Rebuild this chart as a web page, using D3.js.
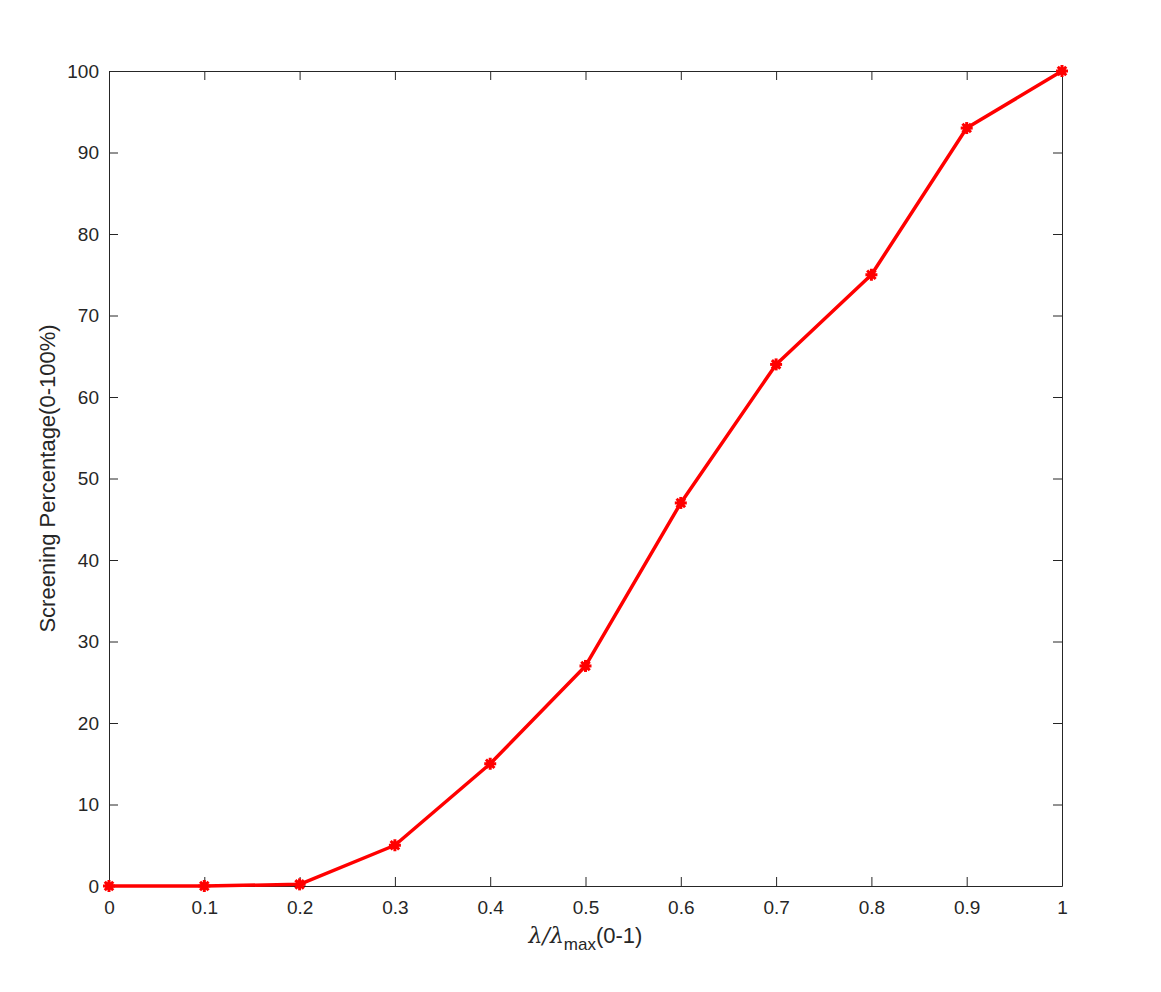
<!DOCTYPE html>
<html>
<head>
<meta charset="utf-8">
<script src="https://cdn.jsdelivr.net/npm/d3@7"></script>
<style>
  body { margin: 0; background: #fff; }
  svg text { font-family: "Liberation Sans", Arial, sans-serif; fill: #262626; }
</style>
</head>
<body>
<script>
const ratios = [0, 0.1, 0.2, 0.3, 0.4, 0.5, 0.6, 0.7, 0.8, 0.9, 1];
const screening = [0, 0, 0.2, 5, 15, 27, 47, 64, 75, 93, 100];
const xTicks = [0, 0.1, 0.2, 0.3, 0.4, 0.5, 0.6, 0.7, 0.8, 0.9, 1];
const yTicks = [0, 10, 20, 30, 40, 50, 60, 70, 80, 90, 100];

const W = 1161, H = 992;
const margin = { top: 71, right: 99, bottom: 106, left: 109 };
const width = W - margin.left - margin.right,
      height = H - margin.top - margin.bottom;

const svg = d3.select('body').append('svg')
    .attr('width', W).attr('height', H);
const g = svg.append('g')
    .attr('transform', 'translate(' + margin.left + ',' + margin.top + ')');

const x = d3.scaleLinear().domain([0, 1]).range([0, width]);
const y = d3.scaleLinear().domain([0, 100]).range([height, 0]);

// axes, ticks pointing inward like matlab
const fmtX = d => d === 0 ? '0' : d === 1 ? '1' : d3.format('.1f')(d);
function styleAxis(sel) {
  sel.select('.domain').attr('stroke', '#262626').attr('stroke-width', 1);
  sel.selectAll('.tick line').attr('stroke', '#262626');
  sel.selectAll('.tick text').style('font-size', '19px');
}
g.append('g').attr('transform', 'translate(0,' + height + ')')
  .call(d3.axisBottom(x).tickValues(xTicks).tickFormat(fmtX).tickSizeInner(-9).tickSizeOuter(0).tickPadding(15))
  .call(styleAxis);
g.append('g')
  .call(d3.axisTop(x).tickValues(xTicks).tickFormat('').tickSizeInner(-9).tickSizeOuter(0))
  .call(styleAxis);
g.append('g')
  .call(d3.axisLeft(y).tickValues(yTicks).tickSizeInner(-9).tickSizeOuter(0).tickPadding(10))
  .call(styleAxis);
g.append('g').attr('transform', 'translate(' + width + ',0)')
  .call(d3.axisRight(y).tickValues(yTicks).tickFormat('').tickSizeInner(-9).tickSizeOuter(0))
  .call(styleAxis);

// line
const pts = ratios.map((r, i) => [r, screening[i]]);
g.append('path')
  .datum(pts)
  .attr('fill', 'none')
  .attr('stroke', '#ff0000')
  .attr('stroke-width', 3.5)
  .attr('stroke-linejoin', 'round')
  .attr('d', d3.line().x(d => x(d[0])).y(d => y(d[1])));

// asterisk markers
const star = g.append('g').selectAll('g.mk').data(pts).join('g')
  .attr('transform', d => 'translate(' + x(d[0]) + ',' + y(d[1]) + ')');
[0, 45, 90, 135].forEach(a => {
  star.append('line')
    .attr('x1', -6).attr('x2', 6).attr('y1', 0).attr('y2', 0)
    .attr('transform', 'rotate(' + a + ')')
    .attr('stroke', '#ff0000').attr('stroke-width', 3);
});
star.append('circle').attr('r', 4).attr('fill', '#ff0000');

// labels
const xl = svg.append('text')
  .attr('x', margin.left + width / 2).attr('y', 943)
  .attr('text-anchor', 'middle').style('font-size', '22px');
xl.append('tspan').style('font-family', '"DejaVu Serif", serif').style('font-style', 'italic').text('λ/λ');
xl.append('tspan').attr('dy', 7).style('font-size', '17px').text('max');
xl.append('tspan').attr('dy', -7).text('(0-1)');

svg.append('text')
  .attr('transform', 'translate(55,' + (margin.top + height / 2) + ') rotate(-90)')
  .attr('text-anchor', 'middle').style('font-size', '22px')
  .text('Screening Percentage(0-100%)');
</script>
</body>
</html>
